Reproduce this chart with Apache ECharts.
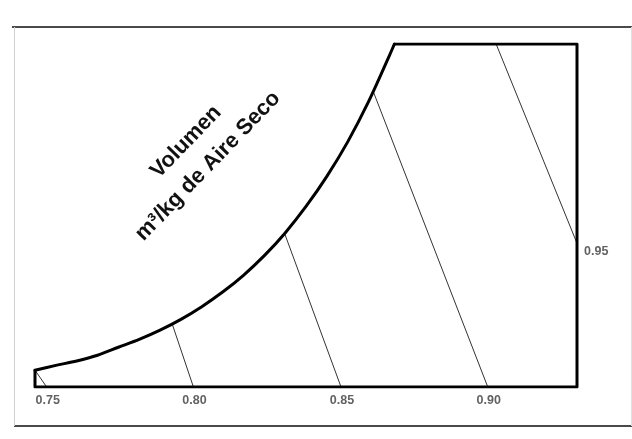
<!DOCTYPE html>
<html>
<head>
<meta charset="utf-8">
<style>html,body{margin:0;padding:0;background:#fff}#c{width:632px;height:439px}</style>
<script src="https://cdn.jsdelivr.net/npm/echarts@6/dist/echarts.min.js"></script>
</head>
<body>
<div id="c"></div>
<script>
// Saturation curve: dry-bulb temperature (°C) and humidity ratio (kg/kg)
const satTemp = [-10, -7.5, -5, -2.5, 0, 2.5, 5, 7.5, 10, 12.5, 15, 17.5, 20, 22.5, 25, 27.5, 30, 32.5, 33.1];
const satW = [0.0016, 0.00206, 0.00248, 0.00303, 0.00379, 0.00454, 0.00542, 0.00645, 0.00766, 0.00905, 0.01065, 0.01252, 0.01469, 0.01721, 0.02008, 0.02337, 0.0272, 0.03159, 0.0327];
// Chart limits
const tMin = -10, tMax = 55, wMax = 0.0327;
// Specific volume lines (m³/kg dry air): start (on curve / top) and end (bottom / right)
const volLabels = ['0.75', '0.80', '0.85', '0.90', '0.95'];
const volStartT = [-10, 6.5, 20.0, 30.6, 45.3];
const volStartW = [0.0016, 0.0059, 0.0145, 0.0281, 0.0327];
const volEndT = [-8.6, 9.0, 26.7, 44.3, 55];
const volEndW = [0, 0, 0, 0, 0.0137];
// Title text
const titleLine1 = 'Volumen';
const titleLine2 = 'm³/kg de Aire Seco';

const chart = echarts.init(document.getElementById('c'), null, {renderer: 'canvas'});

const series = [];
series.push({
  type: 'line', name: 'sat', data: satTemp.map((t, i) => [t, satW[i]]),
  smooth: 0.3, symbol: 'none', silent: true,
  lineStyle: {color: '#000', width: 3, cap: 'round', join: 'round'}, z: 5
});
series.push({
  type: 'line', name: 'frame',
  data: [[satTemp[satTemp.length - 1], wMax], [tMax, wMax], [tMax, 0], [tMin, 0], [tMin, satW[0]]],
  symbol: 'none', silent: true,
  lineStyle: {color: '#000', width: 3, cap: 'round', join: 'round'}, z: 5
});
volLabels.forEach((lab, i) => {
  series.push({
    type: 'line', name: 'v' + lab,
    data: [[volStartT[i], volStartW[i]], [volEndT[i], volEndW[i]]],
    symbol: 'none', silent: true,
    lineStyle: {color: '#333', width: 1}, z: 3
  });
});
series.push({
  type: 'scatter', name: 'labels', symbolSize: 0, silent: true,
  data: volLabels.map((lab, i) => {
    const right = volEndT[i] >= tMax;
    return {
      value: [volEndT[i], volEndW[i]], name: lab,
      label: right
        ? {show: true, position: 'right', distance: 7, offset: [0, 8]}
        : {show: true, position: 'bottom', distance: 7, offset: [1, 0]}
    };
  }),
  label: {formatter: p => p.name, color: '#3a3a3a', fontSize: 12.5, fontWeight: 'bold', fontFamily: 'Liberation Sans, Arial, sans-serif'}
});

const rot = 46 * Math.PI / 180;
chart.setOption({
  animation: false,
  backgroundColor: '#fff',
  grid: {left: 35, right: 55, top: 44, bottom: 52},
  xAxis: {type: 'value', min: tMin, max: tMax, show: false},
  yAxis: {type: 'value', min: 0, max: wMax, show: false},
  series: series,
  graphic: [
    {type: 'line', shape: {x1: 12, y1: 27, x2: 632, y2: 27}, style: {stroke: '#4a4a4a', lineWidth: 2}, silent: true},
    {type: 'line', shape: {x1: 14, y1: 426, x2: 632, y2: 426}, style: {stroke: '#4a4a4a', lineWidth: 2}, silent: true},
    {type: 'line', shape: {x1: 14.5, y1: 27, x2: 14.5, y2: 426}, style: {stroke: '#d0d0d0', lineWidth: 1}, silent: true},
    {type: 'line', shape: {x1: 631.5, y1: 27, x2: 631.5, y2: 426}, style: {stroke: '#e0e0e0', lineWidth: 1}, silent: true},
    {type: 'text', x: 186, y: 142, rotation: rot, silent: true,
     style: {text: titleLine1, fill: '#111', font: 'bold 22px "Liberation Sans", Arial, sans-serif', textAlign: 'center', textVerticalAlign: 'middle'}},
    {type: 'text', x: 208, y: 166, rotation: rot, silent: true,
     style: {text: titleLine2, fill: '#111', font: 'bold 22px "Liberation Sans", Arial, sans-serif', textAlign: 'center', textVerticalAlign: 'middle'}}
  ]
});
</script>
</body>
</html>
